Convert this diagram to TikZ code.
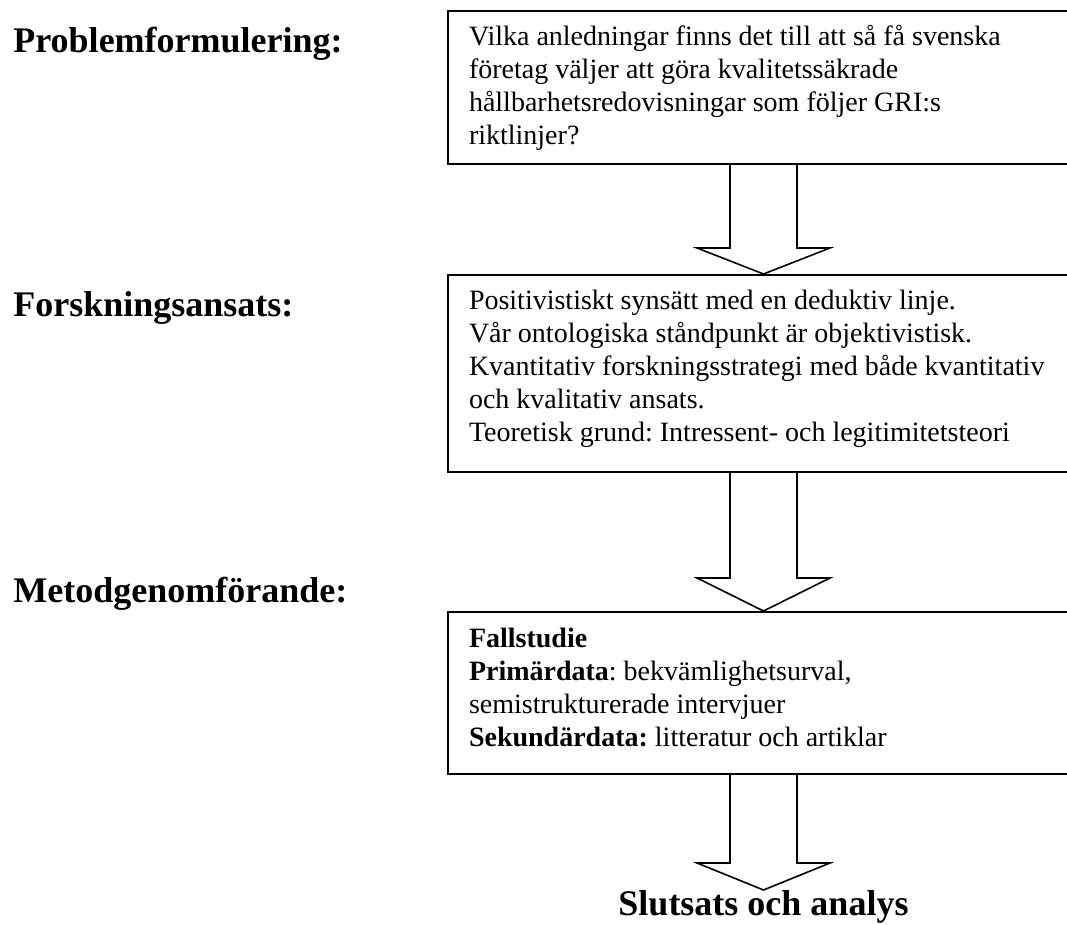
\documentclass[tikz,border=0pt]{standalone}
\usepackage{fontspec}
\setmainfont{Liberation Serif}
\usepackage{tikz}
\usetikzlibrary{calc}
\frenchspacing
\tikzstyle{LabelNode}=[anchor=base west,inner sep=0pt,font=\fontsize{18pt}{21pt}\selectfont\bfseries]
\tikzstyle{BoxNode}=[draw,line width=1pt,anchor=north west,inner xsep=10.5pt,inner ysep=0pt,
font=\fontsize{14pt}{16.5pt}\selectfont]
\tikzstyle{ArrowLine}=[line width=0.8pt,line join=miter]
\newcommand{\BoxText}[2]{\parbox[c][#1][t]{300pt}{\raggedright\rule{0pt}{17.5pt}#2}}
\newcommand{\BlockArrow}[3]{\draw[ArrowLine]($(#1.south west)+(283,0)$)--++(0,#3)--++(-33,0)
    --({$(#1.south west)+(316.5,0)$}|-#2.north)--($(#1.south west)+(383,#3)$)--++(-33,0)--++(0,-#3);}

\begin{document}
\begin{tikzpicture}[x=0.5pt,y=-0.5pt]
        \clip(0,0)rectangle(1067,925);
        \node[LabelNode](problabel)at(13,53){Problemformulering:};
        \node[LabelNode](ansatslabel)at(13,317){Forskningsansats:};
        \node[LabelNode](metodlabel)at(13,603){Metodgenomförande:};
        \node[BoxNode](prob)at(447,10){\BoxText{76.5pt}{Vilka anledningar finns det till att så få svenska\\
            företag väljer att göra kvalitetssäkrade\\
            hållbarhetsredovisningar som följer GRI:s\\
            riktlinjer?}};
        \node[BoxNode](ansats)at(447,274){\BoxText{98.5pt}{Positivistiskt synsätt med en deduktiv linje.\\
            Vår ontologiska ståndpunkt är objektivistisk.\\
            Kvantitativ forskningsstrategi med både kvantitativ\\
            och kvalitativ ansats.\\
            Teoretisk grund: Intressent- och legitimitetsteori}};
        \node[BoxNode](metod)at(447,611){\BoxText{81pt}{\textbf{Fallstudie}\\
            \textbf{Primärdata}: bekvämlighetsurval,\\
            semistrukturerade intervjuer\\
            \textbf{Sekundärdata:} litteratur och artiklar}};
        \node[LabelNode,anchor=north](slut)at(763.5,890){Slutsats och analys};
        \BlockArrow{prob}{ansats}{83}
        \BlockArrow{ansats}{metod}{105}
        \BlockArrow{metod}{slut}{88}
    \end{tikzpicture}
\end{document}
